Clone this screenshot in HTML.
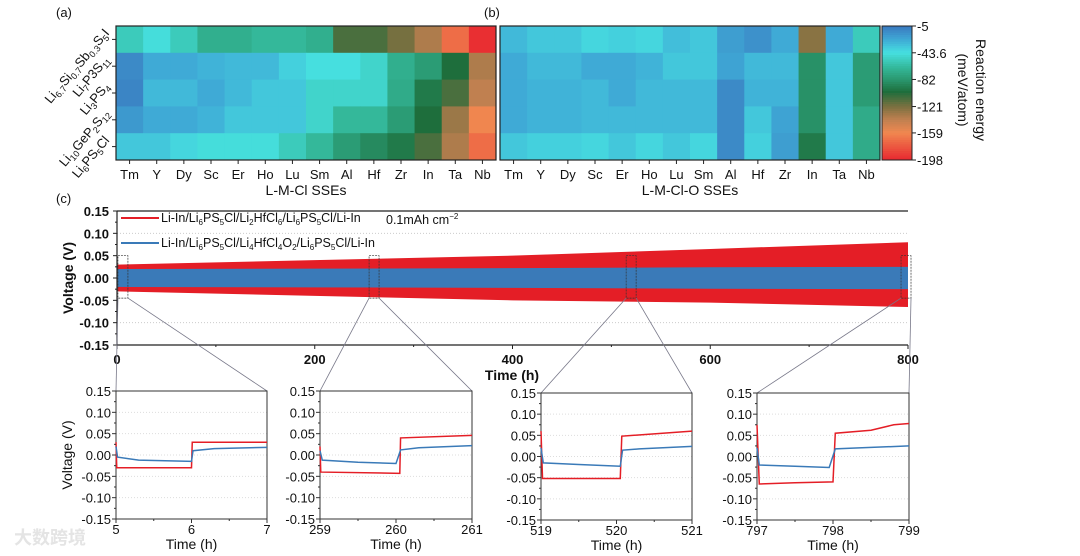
<!DOCTYPE html>
<html><head><meta charset="utf-8">
<style>
html,body{margin:0;padding:0;background:#fff;}
svg{display:block;font-family:"Liberation Sans","Noto Sans CJK SC",sans-serif;}
</style></head>
<body>
<svg id="fig" width="1080" height="556" viewBox="0 0 1080 556" xmlns="http://www.w3.org/2000/svg">
<g id="g"></g>
</svg>
<script>
// ---------- data ----------
const metals = ["Tm","Y","Dy","Sc","Er","Ho","Lu","Sm","Al","Hf","Zr","In","Ta","Nb"];
const electrolytes = ["Li6.7Si0.7Sb0.3S5I","Li7P3S11","Li3PS4","Li10GeP2S12","Li6PS5Cl"];
const energyA = [
 [-55,-45,-55,-70,-70,-65,-65,-70,-110,-110,-120,-135,-170,-195],
 [-12,-25,-25,-28,-30,-30,-38,-44,-44,-50,-70,-80,-100,-135],
 [-10,-30,-30,-25,-30,-35,-35,-50,-50,-50,-72,-95,-110,-140],
 [-18,-25,-25,-28,-35,-35,-35,-50,-65,-65,-80,-100,-130,-160],
 [-35,-35,-40,-45,-45,-45,-55,-65,-80,-88,-95,-110,-135,-170]
];
const energyB = [
 [-30,-35,-35,-40,-38,-40,-32,-35,-20,-15,-25,-125,-25,-55],
 [-25,-30,-30,-25,-25,-28,-35,-35,-22,-30,-30,-85,-35,-80],
 [-25,-28,-28,-30,-25,-30,-30,-30,-12,-28,-28,-85,-35,-80],
 [-25,-28,-28,-30,-30,-30,-30,-30,-12,-35,-22,-85,-35,-72],
 [-35,-38,-38,-40,-35,-40,-35,-40,-12,-38,-20,-95,-35,-72]
];
const cbarTicks = [-5,-43.6,-82,-121,-159,-198];
// main cycling envelope
const envTime = [0,200,400,600,800];
const redUpper = [0.030,0.040,0.050,0.065,0.080];
const redLower = [-0.030,-0.040,-0.050,-0.055,-0.065];
const blueUpper = [0.020,0.021,0.022,0.024,0.025];
const blueLower = [-0.020,-0.021,-0.022,-0.024,-0.025];
const mainYTicks = [0.15,0.10,0.05,0.00,-0.05,-0.10,-0.15];
const mainXTicks = [0,200,400,600,800];
// insets
const insetStart = [5,259,519,797];
const inset1T_red = [5,5.01,6,6.01,7]; const inset1V_red=[0.03,-0.03,-0.03,0.03,0.03];
const inset1T_blue = [5,5.02,5.3,6,6.02,6.3,7]; const inset1V_blue=[0.02,-0.005,-0.012,-0.015,0.01,0.015,0.018];
const inset2T_red = [259,259.01,260.05,260.06,261]; const inset2V_red=[0.02,-0.04,-0.043,0.04,0.046];
const inset2T_blue = [259,259.03,259.5,260,260.06,260.3,261]; const inset2V_blue=[0.01,-0.012,-0.017,-0.02,0.012,0.017,0.022];
const inset3T_red = [519,519.02,520.05,520.07,521]; const inset3V_red=[0.06,-0.052,-0.052,0.048,0.06];
const inset3T_blue = [519,519.03,519.5,520.05,520.08,520.3,521]; const inset3V_blue=[0.02,-0.015,-0.019,-0.023,0.015,0.018,0.024];
const inset4T_red = [797,797.03,797.5,798,798.03,798.5,798.8,799]; const inset4V_red=[0.075,-0.065,-0.062,-0.06,0.055,0.062,0.075,0.078];
const inset4T_blue = [797,797.03,797.5,797.95,798.03,798.3,799]; const inset4V_blue=[0.02,-0.02,-0.023,-0.026,0.018,0.02,0.025];
const insetTicks = [0.15,0.10,0.05,0.00,-0.05,-0.10,-0.15];

// ---------- helpers ----------
const NS="http://www.w3.org/2000/svg";
const root=document.getElementById('g');
function mk(tag,attrs,parent){const e=document.createElementNS(NS,tag);for(const k in attrs)e.setAttribute(k,attrs[k]);(parent||root).appendChild(e);return e;}
function txt(s,x,y,size,anchor,extra){const e=mk('text',Object.assign({x:x,y:y,'font-size':size,'text-anchor':anchor||'middle',fill:'#111'},extra||{}));e.textContent=s;return e;}
const stops=[[-5,[58,120,191]],[-25,[63,170,214]],[-43.6,[70,224,224]],[-65,[52,184,154]],[-82,[42,152,112]],[-100,[30,110,60]],[-121,[122,112,64]],[-140,[192,128,80]],[-159,[240,136,80]],[-198,[232,40,48]]];
function cmap(v){v=Math.max(-198,Math.min(-5,v));for(let i=0;i<stops.length-1;i++){const a=stops[i],b=stops[i+1];if(v<=a[0]&&v>=b[0]){const t=(a[0]-v)/(a[0]-b[0]);const c=a[1].map((x,j)=>Math.round(x+(b[1][j]-x)*t));return `rgb(${c.join(',')})`;}}return 'rgb(232,40,48)';}

// ---------- heatmaps ----------
function heatmap(data,x0,x1,y0,y1,name,title,label,labelX,titleX){
  const g=mk('g',{});
  
  
  const cw=(x1-x0)/metals.length, ch=(y1-y0)/electrolytes.length;
  data.forEach((row,r)=>row.forEach((v,c)=>{
    const cell=mk('rect',{x:x0+c*cw,y:y0+r*ch,width:cw+0.5,height:ch+0.5,fill:cmap(v)},g);
    
    
  }));
  mk('rect',{x:x0,y:y0,width:x1-x0,height:y1-y0,fill:'none',stroke:'#222','stroke-width':1.2},g);
  metals.forEach((m,c)=>{const cx=x0+(c+0.5)*cw;mk('line',{x1:cx,y1:y1,x2:cx,y2:y1+4,stroke:'#222'},g);
    const t=txt(m,cx,179,13);});
  const tt=txt(title,titleX,195,14);
  const pl=txt(label,labelX,17,13,'start');
  return {cw,ch};
}
const hA=heatmap(energyA,116,496,26,160,'heatmap-a','L-M-Cl SSEs','(a)',56,306);
heatmap(energyB,500,880,26,160,'heatmap-b','L-M-Cl-O SSEs','(b)',484,690);
// y labels for heatmap a (rotated)
const ylab=[['Li','6.7','Si','0.7','Sb','0.3','S','5','I'],['Li','7','P3S','11'],['Li','3','PS','4'],['Li','10','GeP','2','S','12'],['Li','6','PS','5','Cl']];
ylab.forEach((parts,r)=>{
  const cy=26+(r+0.5)*hA.ch;
  mk('line',{x1:112,y1:cy,x2:116,y2:cy,stroke:'#222'});
  const t=mk('text',{x:0,y:0,'font-size':13,'text-anchor':'end',fill:'#111',transform:`translate(110,${cy-6}) rotate(-50)`});
  
  
  parts.forEach((p,i)=>{const s=document.createElementNS(NS,'tspan');s.textContent=p;if(i%2===1){s.setAttribute('font-size',9);s.setAttribute('dy',3);}else if(i>0){s.setAttribute('dy',-3);}t.appendChild(s);});
});
// colorbar
(function(){
  const g=mk('g',{});
  const n=60,y0=26,y1=160;
  for(let i=0;i<n;i++){const v=-5+(-193)*(i+0.5)/n;mk('rect',{x:882,y:y0+i*(y1-y0)/n,width:30,height:(y1-y0)/n+0.5,fill:cmap(v)},g);}
  mk('rect',{x:882,y:y0,width:30,height:y1-y0,fill:'none',stroke:'#222'},g);
  cbarTicks.forEach(v=>{const y=y0+(v+5)/(-193)*(y1-y0);mk('line',{x1:912,y1:y,x2:916,y2:y,stroke:'#222'},g);
    const t=txt(String(v),917,y+5,13,'start');});
  const t1=mk('text',{x:0,y:0,'font-size':14,'text-anchor':'middle',fill:'#111',transform:'translate(976,90) rotate(90)'});t1.textContent='Reaction energy';
  
  
  const t2=mk('text',{x:0,y:0,'font-size':14,'text-anchor':'middle',fill:'#111',transform:'translate(958,90) rotate(90)'});t2.textContent='(meV/atom)';
  
  
})();

// ---------- main cycling chart ----------
const MX0=117,MX1=908,MY0=211,MY1=345;
const mx=t=>MX0+(t-0)/(800)*(MX1-MX0);
const my=v=>MY0+(0.15-v)/0.3*(MY1-MY0);
(function(){
  const g=mk('g',{});
  [0.10,-0.10].forEach(v=>mk('line',{x1:MX0,x2:MX1,y1:my(v),y2:my(v),stroke:'#ccc','stroke-dasharray':'1,2'},g));
  function band(up,lo,color,name){
    let d='M'+envTime.map((t,i)=>mx(t)+','+my(up[i])).join('L')+'L'+envTime.slice().reverse().map((t,i)=>mx(t)+','+my(lo[lo.length-1-i])).join('L')+'Z';
    const p=mk('path',{d:d,fill:color},g);
  }
  band(redUpper,redLower,'#e41e26','series-li2hfcl6');
  band(blueUpper,blueLower,'#3a7ab8','series-li4hfcl4o2');
  mk('line',{x1:MX0,x2:MX1,y1:MY0,y2:MY0,stroke:'#222','stroke-width':1.2},g);
  mk('line',{x1:MX0,x2:MX1,y1:MY1,y2:MY1,stroke:'#222','stroke-width':1.2},g);
  mk('line',{x1:MX0,x2:MX0,y1:MY0,y2:MY1,stroke:'#222','stroke-width':1.2},g);
  mainYTicks.forEach(v=>{mk('line',{x1:MX0-4,x2:MX0,y1:my(v),y2:my(v),stroke:'#222'},g);
    const t=txt(v.toFixed(2),109,my(v)+5,13,'end',{'font-weight':'bold'});});
  for(let v=-0.125;v<0.15;v+=0.05)mk('line',{x1:MX0-2,x2:MX0,y1:my(v),y2:my(v),stroke:'#222'},g);
  mainXTicks.forEach(v=>{mk('line',{x1:mx(v),x2:mx(v),y1:MY1,y2:MY1+4,stroke:'#222'},g);
    const t=txt(String(v),mx(v),364,13,'middle',{'font-weight':'bold'});});
  [100,300,500,700].forEach(v=>mk('line',{x1:mx(v),x2:mx(v),y1:MY1,y2:MY1+2,stroke:'#222'},g));
  const xt=txt('Time (h)',512,380,14,'middle',{'font-weight':'bold'});
  const yt=mk('text',{x:0,y:0,'font-size':14,'text-anchor':'middle','font-weight':'bold',fill:'#111',transform:`translate(73,${my(0)}) rotate(-90)`});yt.textContent='Voltage (V)';
  
  
  const pl=txt('(c)',56,203,13,'start');
  // legend
  const lg=mk('g',{},g);
  mk('line',{x1:121,x2:159,y1:218,y2:218,stroke:'#e41e26','stroke-width':2},lg);
  const l1=mk('text',{x:161,y:222,'font-size':12.5,fill:'#111'},lg);
  l1.innerHTML='Li-In/Li<tspan font-size="8" dy="3">6</tspan><tspan dy="-3">PS</tspan><tspan font-size="8" dy="3">5</tspan><tspan dy="-3">Cl/Li</tspan><tspan font-size="8" dy="3">2</tspan><tspan dy="-3">HfCl</tspan><tspan font-size="8" dy="3">6</tspan><tspan dy="-3">/Li</tspan><tspan font-size="8" dy="3">6</tspan><tspan dy="-3">PS</tspan><tspan font-size="8" dy="3">5</tspan><tspan dy="-3">Cl/Li-In</tspan>';
  
  
  mk('line',{x1:121,x2:159,y1:243,y2:243,stroke:'#3a7ab8','stroke-width':2},lg);
  const l2=mk('text',{x:161,y:247,'font-size':12.5,fill:'#111'},lg);
  l2.innerHTML='Li-In/Li<tspan font-size="8" dy="3">6</tspan><tspan dy="-3">PS</tspan><tspan font-size="8" dy="3">5</tspan><tspan dy="-3">Cl/Li</tspan><tspan font-size="8" dy="3">4</tspan><tspan dy="-3">HfCl</tspan><tspan font-size="8" dy="3">4</tspan><tspan dy="-3">O</tspan><tspan font-size="8" dy="3">2</tspan><tspan dy="-3">/Li</tspan><tspan font-size="8" dy="3">6</tspan><tspan dy="-3">PS</tspan><tspan font-size="8" dy="3">5</tspan><tspan dy="-3">Cl/Li-In</tspan>';
  
  
  const cap=mk('text',{x:386,y:224,'font-size':12.5,fill:'#111'},lg);
  cap.innerHTML='0.1mAh cm<tspan font-size="8" dy="-5">−2</tspan>';
  
  
})();

// ---------- insets ----------
const insetBoxes=[[116,267,391,519],[320,472,391,519],[541,692,393,520],[757,909,393,520]];
const insetData=[[inset1T_red,inset1V_red,inset1T_blue,inset1V_blue],[inset2T_red,inset2V_red,inset2T_blue,inset2V_blue],[inset3T_red,inset3V_red,inset3T_blue,inset3V_blue],[inset4T_red,inset4V_red,inset4T_blue,inset4V_blue]];
insetStart.forEach((t0,k)=>{
  const [x0,x1,y0,y1]=insetBoxes[k];
  const g=mk('g',{});
  const ix=t=>x0+(t-t0)/2*(x1-x0);
  const iy=v=>y0+(0.15-v)/0.3*(y1-y0);
  const bx0=mx(t0)-4,bx1=mx(t0+2)+4,by0=my(0.05),by1=my(-0.045);
  mk('rect',{x:bx0,y:by0,width:bx1-bx0,height:by1-by0,fill:'none',stroke:'#333','stroke-width':0.7,'stroke-dasharray':'2,1'},g);
  mk('line',{x1:bx0,y1:by1,x2:x0,y2:y0,stroke:'#778','stroke-width':0.8},g);
  mk('line',{x1:bx1,y1:by1,x2:x1,y2:y0,stroke:'#778','stroke-width':0.8},g);
  [0.10,0.05,0,-0.05,-0.10].forEach(v=>mk('line',{x1:x0,x2:x1,y1:iy(v),y2:iy(v),stroke:'#ddd','stroke-dasharray':'1,2'},g));
  mk('rect',{x:x0,y:y0,width:x1-x0,height:y1-y0,fill:'none',stroke:'#333','stroke-width':1},g);
  const d=insetData[k];
  const pr=mk('polyline',{points:d[0].map((t,i)=>ix(t)+','+iy(d[1][i])).join(' '),fill:'none',stroke:'#e41e26','stroke-width':1.5},g);
  
  
  const pb=mk('polyline',{points:d[2].map((t,i)=>ix(t)+','+iy(d[3][i])).join(' '),fill:'none',stroke:'#3a7ab8','stroke-width':1.5},g);
  
  
  insetTicks.forEach(v=>{mk('line',{x1:x0-4,x2:x0,y1:iy(v),y2:iy(v),stroke:'#333'},g);
    const t=txt(v.toFixed(2),x0-5,iy(v)+5,13,'end');});
  for(let v=-0.125;v<0.15;v+=0.05)mk('line',{x1:x0-2,x2:x0,y1:iy(v),y2:iy(v),stroke:'#333'},g);
  [0,1,2].forEach(j=>{mk('line',{x1:ix(t0+j),x2:ix(t0+j),y1:y1,y2:y1+4,stroke:'#333'},g);
    const t=txt(String(t0+j),ix(t0+j),y1+15,13);});
  [0.5,1.5].forEach(j=>mk('line',{x1:ix(t0+j),x2:ix(t0+j),y1:y1,y2:y1+2,stroke:'#333'},g));
  const xt=txt('Time (h)',(x0+x1)/2,y1+30,14);
});
const iyt=mk('text',{x:0,y:0,'font-size':14,'text-anchor':'middle',fill:'#111',transform:'translate(72,455) rotate(-90)'});iyt.textContent='Voltage (V)';


const wm=txt('大数跨境',50,544,18,'middle',{fill:'#e4e4e4','font-weight':'bold'});


</script>
</body></html>
